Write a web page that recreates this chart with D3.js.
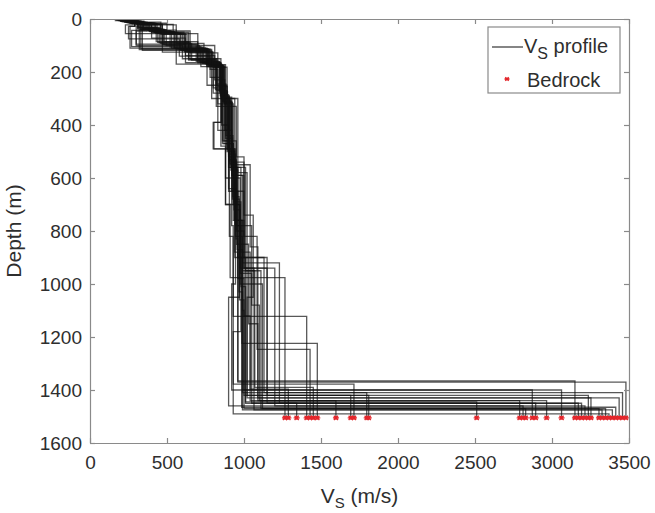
<!DOCTYPE html>
<html>
<head>
<meta charset="utf-8">
<script src="https://cdn.jsdelivr.net/npm/d3@7/dist/d3.min.js"></script>
<style>
  html, body { margin: 0; padding: 0; background: #fff; }
  svg { display: block; font-family: "Liberation Sans", Arial, Helvetica, sans-serif; }
</style>
</head>
<body>
<svg id="chart" width="655" height="513"></svg>
<script>
// ---------------- data ----------------
const xTicks = [0, 500, 1000, 1500, 2000, 2500, 3000, 3500];
const yTicks = [0, 200, 400, 600, 800, 1000, 1200, 1400, 1600];
const bedrockDepth = 1505;

// layer shear-wave velocities (m/s) of each profile, top to bottom
const profileVs = [
  [200, 350, 300, 620, 800, 850, 880, 910],
  [175, 290, 260, 560, 790, 860, 930, 1000, 1040],
  [260, 420, 640, 780, 830, 900, 960, 1010],
  [210, 330, 480, 700, 850, 890, 920, 930],
  [230, 460, 340, 720, 860, 920, 1000, 1085],
  [300, 540, 700, 810, 870, 940, 1010, 1070],
  [190, 280, 230, 470, 760, 820, 880, 940, 987],
  [240, 400, 560, 740, 820, 870, 950, 1050, 1100],
  [280, 500, 330, 760, 880, 950, 1000, 1060, 1020],
  [215, 320, 450, 640, 800, 860, 905, 930],
  [330, 560, 650, 830, 890, 960, 1020, 1130],
  [250, 370, 300, 600, 760, 830, 900, 1000, 1150],
  [165, 310, 470, 700, 830, 890, 935, 980, 1010],
  [270, 430, 610, 790, 870, 920, 980, 1040],
  [225, 350, 320, 700, 850, 800, 880, 975, 1200],
  [310, 470, 620, 770, 865, 920, 990, 1110],
  [195, 290, 250, 580, 780, 855, 900, 945, 920],
  [245, 380, 530, 730, 845, 905, 950, 1000, 1150],
  [290, 440, 590, 760, 860, 910, 1040, 1090],
  [220, 340, 460, 660, 815, 870, 930, 970, 1000],
  [270, 400, 560, 770, 850, 900, 940, 960],
  [235, 360, 270, 720, 845, 890, 940, 990, 1230],
  [320, 470, 630, 800, 875, 930, 975, 1050],
  [200, 310, 440, 650, 820, 880, 925, 970, 900],
  [255, 390, 550, 760, 855, 805, 945, 990, 1000],
  [300, 455, 600, 790, 865, 915, 960, 1020],
  [210, 330, 480, 690, 840, 890, 935, 975, 1120],
  [265, 410, 570, 780, 860, 910, 955, 990],
  [185, 290, 400, 620, 810, 875, 920, 960, 1000],
  [240, 370, 520, 735, 848, 900, 945, 980, 930],
  [315, 460, 615, 795, 870, 925, 1000, 1065],
  [225, 345, 495, 710, 842, 893, 938, 985],
  [280, 425, 585, 775, 858, 908, 952, 1030, 1090],
  [205, 315, 430, 640, 825, 882, 928, 968, 990],
  [250, 385, 545, 750, 852, 903, 948, 960]
];

// bottom depth (m) of each of those layers; last value = top of bedrock
const profileBottom = [
  [8, 30, 95, 165, 280, 480, 700, 976],
  [5, 28, 110, 170, 300, 470, 760, 1120, 1397],
  [15, 50, 120, 190, 320, 560, 900, 1450],
  [10, 40, 85, 150, 250, 440, 780, 1122],
  [12, 35, 118, 180, 310, 540, 820, 1247],
  [20, 55, 100, 175, 300, 560, 950, 1390],
  [4, 22, 55, 125, 180, 330, 600, 900, 1224],
  [14, 42, 92, 160, 270, 460, 780, 1080, 1440],
  [16, 40, 112, 172, 330, 520, 740, 1050, 1420],
  [9, 33, 90, 155, 260, 460, 820, 1378],
  [22, 45, 128, 182, 300, 580, 900, 1410],
  [13, 46, 100, 150, 250, 420, 650, 940, 1420],
  [6, 38, 96, 158, 255, 490, 690, 1010, 1445],
  [17, 50, 115, 175, 295, 560, 880, 1440],
  [11, 40, 115, 165, 390, 490, 700, 940, 1460],
  [19, 56, 122, 180, 315, 590, 950, 1470],
  [7, 28, 75, 140, 220, 400, 640, 1000, 1400],
  [14, 45, 110, 168, 290, 530, 800, 900, 1450],
  [18, 54, 118, 176, 305, 550, 860, 1440],
  [10, 36, 92, 155, 265, 470, 700, 1060, 1400],
  [16, 50, 112, 172, 300, 520, 880, 1366],
  [12, 43, 104, 163, 280, 500, 760, 920, 1450],
  [21, 58, 125, 182, 320, 600, 960, 1450],
  [9, 34, 88, 152, 250, 450, 680, 1050, 1460],
  [15, 48, 110, 170, 390, 490, 820, 1100, 1420],
  [19, 55, 120, 178, 310, 570, 900, 1430],
  [10, 38, 98, 160, 270, 490, 720, 1000, 1470],
  [16, 51, 114, 174, 300, 560, 870, 1475],
  [6, 26, 72, 138, 230, 420, 650, 980, 1470],
  [13, 44, 106, 166, 285, 510, 780, 1180, 1490],
  [20, 57, 124, 180, 315, 590, 940, 1475],
  [11, 41, 100, 162, 275, 495, 760, 1465],
  [17, 53, 116, 175, 298, 545, 850, 1150, 1430],
  [9, 33, 85, 150, 245, 440, 670, 1030, 1410],
  [14, 47, 109, 169, 292, 535, 830, 1370]
];

// bedrock shear-wave velocity (m/s) of each profile
const bedrockVs = [1266, 1288, 1342, 1407, 1429, 1450, 1476, 1597, 1693, 1714,
  1797, 1810, 2511, 2790, 2812, 2829, 2872, 2894, 2965, 3062, 3149, 3171, 3192,
  3214, 3236, 3253, 3305, 3325, 3348, 3370, 3392, 3414, 3436, 3458, 3480];

// ---------------- drawing ----------------
const svg = d3.select("#chart");
const pL = 90, pR = 629, pT = 19, pB = 443;
const x = d3.scaleLinear().domain([0, 3500]).range([pL, pR]);
const y = d3.scaleLinear().domain([0, 1600]).range([pT, pB]);

const axisColor = "#8a8a8a";
const textColor = "#2e2e2e";

svg.append("rect").attr("x", 0).attr("y", 0).attr("width", 655).attr("height", 513).attr("fill", "#fff");

// profiles as stairs
const line = d3.line().x(d => x(d[0])).y(d => y(d[1]));
const g = svg.append("g");
profileVs.forEach((vs, i) => {
  const b = profileBottom[i];
  const pts = [[vs[0], 0]];
  vs.forEach((v, k) => {
    pts.push([v, b[k]]);
    const next = k + 1 < vs.length ? vs[k + 1] : bedrockVs[i];
    pts.push([next, b[k]]);
  });
  pts.push([bedrockVs[i], bedrockDepth]);
  g.append("path")
    .attr("d", line(pts))
    .attr("fill", "none")
    .attr("stroke", "#111")
    .attr("stroke-opacity", 0.7)
    .attr("stroke-width", 1.3);
});

// bedrock markers (small red asterisks)
function star(sel, cx, cy, r) {
  const p = d3.path();
  p.moveTo(cx - r, cy); p.lineTo(cx + r, cy);
  p.moveTo(cx - r * 0.7, cy - r * 0.7); p.lineTo(cx + r * 0.7, cy + r * 0.7);
  p.moveTo(cx - r * 0.7, cy + r * 0.7); p.lineTo(cx + r * 0.7, cy - r * 0.7);
  p.moveTo(cx, cy - r * 0.6); p.lineTo(cx, cy + r * 0.6);
  sel.append("path").attr("d", p.toString()).attr("stroke", "#e3262b").attr("stroke-width", 1.3).attr("fill", "none");
}
const mk = svg.append("g");
bedrockVs.forEach(v => star(mk, x(v), y(bedrockDepth), 3));

// axes
const xAxis = svg.append("g").attr("transform", `translate(0,${pB})`)
  .call(d3.axisBottom(x).tickValues(xTicks).tickSizeInner(-5).tickSizeOuter(0).tickPadding(8).tickFormat(d3.format("d")));
const xAxisTop = svg.append("g").attr("transform", `translate(0,${pT})`)
  .call(d3.axisTop(x).tickValues(xTicks).tickSizeInner(-5).tickSizeOuter(0).tickFormat(""));
const yAxis = svg.append("g").attr("transform", `translate(${pL},0)`)
  .call(d3.axisLeft(y).tickValues(yTicks).tickSizeInner(-5).tickSizeOuter(0).tickPadding(8).tickFormat(d3.format("d")));
const yAxisRight = svg.append("g").attr("transform", `translate(${pR},0)`)
  .call(d3.axisRight(y).tickValues(yTicks).tickSizeInner(-5).tickSizeOuter(0).tickFormat(""));

[xAxis, xAxisTop, yAxis, yAxisRight].forEach(a => {
  a.select(".domain").attr("stroke", axisColor).attr("stroke-width", 1.2);
  a.selectAll(".tick line").attr("stroke", axisColor).attr("stroke-width", 1.2);
  a.selectAll(".tick text").attr("fill", textColor).attr("font-size", 19)
    .attr("font-family", '"Liberation Sans", Arial, Helvetica, sans-serif');
});
xAxis.selectAll(".tick text").attr("dy", "0.95em");

// axis labels
const xl = svg.append("text").attr("x", (pL + pR) / 2).attr("y", 503)
  .attr("text-anchor", "middle").attr("fill", textColor).attr("font-size", 21);
xl.append("tspan").text("V");
xl.append("tspan").attr("dy", 5).attr("font-size", 15).text("S");
xl.append("tspan").attr("dy", -5).text(" (m/s)");

svg.append("text")
  .attr("transform", `translate(21,${(pT + pB) / 2}) rotate(-90)`)
  .attr("text-anchor", "middle").attr("fill", textColor).attr("font-size", 21)
  .text("Depth (m)");

// legend
const lg = svg.append("g");
lg.append("rect").attr("x", 488).attr("y", 27).attr("width", 132).attr("height", 66)
  .attr("fill", "#fff").attr("stroke", axisColor).attr("stroke-width", 1.2);
lg.append("line").attr("x1", 492).attr("x2", 523).attr("y1", 47).attr("y2", 47)
  .attr("stroke", "#333").attr("stroke-width", 1.2);
const lt = lg.append("text").attr("x", 524).attr("y", 53).attr("fill", textColor).attr("font-size", 20);
lt.append("tspan").text("V");
lt.append("tspan").attr("dy", 6).attr("font-size", 16).text("S");
lt.append("tspan").attr("dy", -6).text(" profile");
star(lg, 507, 79, 2.5);
lg.append("text").attr("x", 527).attr("y", 87).attr("fill", textColor).attr("font-size", 20).text("Bedrock");
</script>
</body>
</html>
